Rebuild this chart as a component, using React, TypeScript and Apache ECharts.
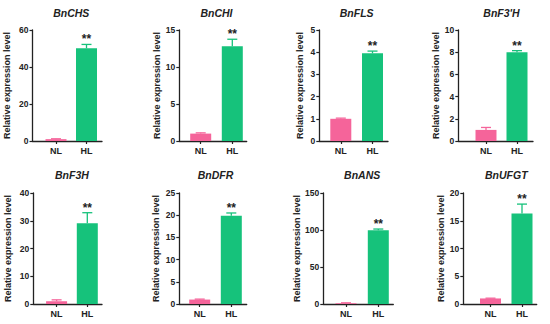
import React, { useEffect, useRef } from "react";
import * as echarts from "echarts";

const categories = ["NL", "HL"];
const genes = ["BnCHS", "BnCHI", "BnFLS", "BnF3'H", "BnF3H", "BnDFR", "BnANS", "BnUFGT"];
const nlMean = [1.0, 1.0, 1.0, 1.0, 1.0, 1.0, 1.0, 1.0];
const nlErr = [0.2, 0.1, 0.03, 0.22, 0.5, 0.1, 0.6, 0.05];
const hlMean = [50.1, 12.8, 3.95, 8.0, 29.1, 19.9, 99.8, 16.3];
const hlErr = [2.1, 0.95, 0.1, 0.14, 3.8, 0.6, 1.5, 1.7];
const yMax = [60, 15, 5, 10, 40, 25, 150, 20];
const yStep = [20, 5, 1, 2, 10, 5, 50, 5];
const significance = ["**", "**", "**", "**", "**", "**", "**", "**"];
const yAxisName = "Relative expression level";

// layout (pixels): axis left, top, width, height, category offsets, name gap
const layout = [
  { left: 32.5, top: 30, width: 69.5, height: 111, off: [23.5, 54], gap: 21 },
  { left: 179.3, top: 30, width: 67.4, height: 111, off: [21.4, 53], gap: 18 },
  { left: 319.3, top: 30, width: 68.7, height: 111, off: [21.5, 53.2], gap: 15 },
  { left: 458.3, top: 30, width: 74.7, height: 111, off: [27.7, 58.7], gap: 13 },
  { left: 33.3, top: 193, width: 68.7, height: 111, off: [23.3, 54], gap: 21 },
  { left: 179.3, top: 193, width: 67.4, height: 111, off: [20.4, 52], gap: 19 },
  { left: 323.3, top: 193, width: 70, height: 111, off: [22.7, 55], gap: 21 },
  { left: 463.3, top: 193, width: 73.4, height: 111, off: [27.2, 58.7], gap: 14 },
];

const colors = ["#F5649A", "#16C27B"];
const ink = "#222222";
const FONT = "Liberation Sans, Arial, sans-serif";

export default function App() {
  const ref = useRef<HTMLDivElement>(null);
  useEffect(() => {
    if (!ref.current) return;
    const chart = echarts.init(ref.current, null, { renderer: "svg" });
    const grid: any[] = [];
    const xAxis: any[] = [];
    const yAxis: any[] = [];
    const series: any[] = [];
    const graphic: any[] = [];
    genes.forEach((g, i) => {
      const L = layout[i];
      grid.push({ left: L.left, top: L.top, width: L.width, height: L.height });
      xAxis.push({
        type: "value",
        gridIndex: i,
        min: 0,
        max: L.width,
        splitLine: { show: false },
        axisLine: { show: true, lineStyle: { color: ink, width: 1.3 } },
        axisTick: { show: true, customValues: L.off, length: 3, lineStyle: { color: ink, width: 1.2 } },
        axisLabel: {
          customValues: L.off,
          formatter: (v: number) => {
            const k = L.off.findIndex((o) => Math.abs(o - v) < 0.01);
            return k >= 0 ? categories[k] : "";
          },
          color: ink,
          fontSize: 9,
          fontWeight: "bold",
          fontFamily: FONT,
          margin: 5,
        },
      });
      yAxis.push({
        type: "value",
        gridIndex: i,
        min: 0,
        max: yMax[i],
        interval: yStep[i],
        splitLine: { show: false },
        axisLine: { show: true, lineStyle: { color: ink, width: 1.3 } },
        axisTick: { show: true, length: 3, lineStyle: { color: ink, width: 1.2 } },
        axisLabel: { color: ink, fontSize: 8.5, fontWeight: "bold", fontFamily: FONT, margin: 4 },
        name: yAxisName,
        nameLocation: "middle",
        nameGap: L.gap,
        nameTextStyle: { color: ink, fontSize: 9, fontWeight: "bold", fontFamily: FONT },
      });
      const means = [nlMean[i], hlMean[i]];
      const errs = [nlErr[i], hlErr[i]];
      series.push({
        type: "bar",
        xAxisIndex: i,
        yAxisIndex: i,
        barWidth: 21,
        data: means.map((m, k) => ({ value: [L.off[k], m], itemStyle: { color: colors[k] } })),
        z: 2,
      });
      series.push({
        type: "custom",
        xAxisIndex: i,
        yAxisIndex: i,
        z: 3,
        data: means.map((m, k) => [L.off[k], m, errs[k]]),
        renderItem: (params: any, api: any) => {
          const x = api.value(0);
          const y = api.value(1);
          const e = api.value(2);
          const base = api.coord([x, y]);
          const top = api.coord([x, y + e]);
          const c = colors[params.dataIndex];
          const children: any[] = [
            { type: "line", shape: { x1: base[0], y1: base[1], x2: top[0], y2: top[1] }, style: { stroke: c, lineWidth: 1.3 } },
            { type: "line", shape: { x1: top[0] - 5, y1: top[1], x2: top[0] + 5, y2: top[1] }, style: { stroke: c, lineWidth: 1.3 } },
          ];
          if (params.dataIndex === 1) {
            children.push({
              type: "text",
              x: top[0],
              y: top[1] + 1,
              style: {
                text: significance[i],
                fill: ink,
                fontSize: 12,
                fontWeight: "bold",
                fontFamily: FONT,
                align: "center",
                verticalAlign: "bottom",
              },
            });
          }
          return { type: "group", children };
        },
      });
      graphic.push({
        type: "text",
        x: L.left + (L.off[0] + L.off[1]) / 2,
        y: i < 4 ? 13.3 : 175.3,
        style: {
          text: g,
          fill: ink,
          fontSize: 10.5,
          fontWeight: "bold",
          fontStyle: "italic",
          fontFamily: FONT,
          align: "center",
          verticalAlign: "middle",
        },
      });
    });
    chart.setOption({
      animation: false,
      backgroundColor: "#ffffff",
      grid,
      xAxis,
      yAxis,
      series,
      graphic,
    });
    return () => chart.dispose();
  }, []);
  return <div ref={ref} style={{ position: "fixed", left: 0, top: 0, width: 550, height: 324 }} />;
}
